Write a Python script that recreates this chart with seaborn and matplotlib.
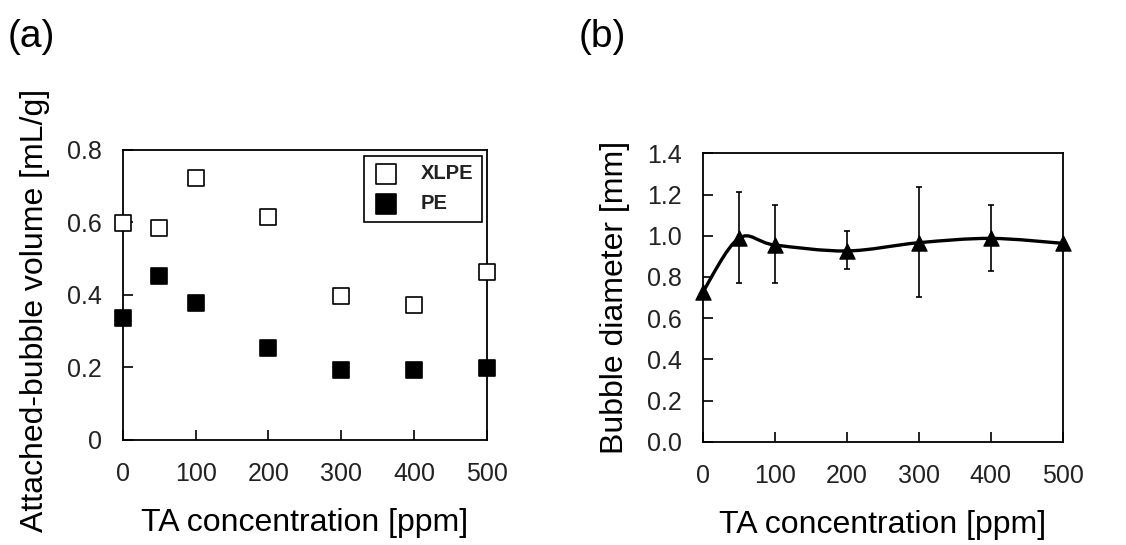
import numpy as np
import matplotlib
matplotlib.use("Agg")
import matplotlib.pyplot as plt
from matplotlib.path import Path
from matplotlib.patches import PathPatch
import seaborn as sns
import pandas as pd

# panel (a) data
ta_ppm = [0, 50, 100, 200, 300, 400, 500]
xlpe_volume = [0.598, 0.584, 0.722, 0.614, 0.397, 0.372, 0.464]
pe_volume = [0.337, 0.452, 0.379, 0.255, 0.193, 0.193, 0.199]

# panel (b) data
bubble_diam = [0.725, 0.987, 0.955, 0.926, 0.966, 0.987, 0.963]
err_low = [np.nan, 0.769, 0.769, 0.840, 0.701, 0.829, np.nan]
err_high = [np.nan, 1.211, 1.148, 1.023, 1.238, 1.148, np.nan]

x_ticks = [0, 100, 200, 300, 400, 500]


def smooth_path(xs, ys):
    # Excel-like smoothed line (Catmull-Rom as cubic Bezier)
    pts = np.column_stack([xs, ys]).astype(float)
    n = len(pts)
    verts = [pts[0]]
    codes = [Path.MOVETO]
    for i in range(n - 1):
        p0 = pts[i - 1] if i > 0 else pts[i]
        p1 = pts[i]
        p2 = pts[i + 1]
        p3 = pts[i + 2] if i + 2 < n else pts[i + 1]
        c1 = p1 + (p2 - p0) / 6.0
        c2 = p2 - (p3 - p1) / 6.0
        verts += [c1, c2, p2]
        codes += [Path.CURVE4] * 3
    return Path(verts, codes)


def main():
    sns.set_theme(style="ticks")
    plt.rcParams['font.family'] = ['Liberation Sans', 'DejaVu Sans']
    plt.rcParams['text.color'] = 'black'
    plt.rcParams['axes.labelcolor'] = 'black'

    fig = plt.figure(figsize=(11.26, 5.45), dpi=100)
    ax1 = fig.add_axes([0.109, 0.1927, 0.3235, 0.5321])
    ax2 = fig.add_axes([0.624, 0.1895, 0.3198, 0.5292])

    df_a = pd.DataFrame({
        'TA': ta_ppm * 2,
        'volume': xlpe_volume + pe_volume,
        'sample': ['XLPE'] * len(ta_ppm) + ['PE'] * len(ta_ppm),
    })
    sns.scatterplot(data=df_a[df_a['sample'] == 'XLPE'], x='TA', y='volume', ax=ax1,
                    marker='s', s=125, facecolor='white', edgecolor='black',
                    linewidth=1.2, label='XLPE', clip_on=False, zorder=3)
    sns.scatterplot(data=df_a[df_a['sample'] == 'PE'], x='TA', y='volume', ax=ax1,
                    marker='s', s=125, color='black', edgecolor='black',
                    linewidth=1.2, label='PE', clip_on=False, zorder=3)
    ax1.set_xlim(0, 500)
    ax1.set_ylim(0, 0.8)
    ax1.set_xticks(x_ticks)
    ax1.set_yticks([0, 0.2, 0.4, 0.6, 0.8])
    ax1.set_yticklabels(['0', '0.2', '0.4', '0.6', '0.8'])
    ax1.set_xlabel('TA concentration [ppm]', fontsize=23, labelpad=16)
    ax1.set_ylabel('Attached-bubble volume [mL/g]', fontsize=23)
    ax1.yaxis.set_label_coords(-0.20, 0.445)
    leg = ax1.legend(loc='upper right', fontsize=14.5, frameon=True, fancybox=False,
                     edgecolor='black', borderpad=0.4, labelspacing=0.55,
                     handletextpad=1.1, handlelength=1.3, markerscale=1.3,
                     bbox_to_anchor=(0.985, 0.978), borderaxespad=0)
    leg.get_frame().set_linewidth(1.2)
    leg.get_frame().set_alpha(1)
    for t in leg.get_texts():
        t.set_fontweight('bold')
        t.set_color('#222222')

    # panel (b)
    ax2.add_patch(PathPatch(smooth_path(ta_ppm, bubble_diam), facecolor='none',
                            edgecolor='black', linewidth=2.4, zorder=3))
    ax2.errorbar(ta_ppm, bubble_diam,
                 yerr=[np.array(bubble_diam) - np.array(err_low),
                       np.array(err_high) - np.array(bubble_diam)],
                 fmt='none', ecolor='black', elinewidth=1.2, capsize=2.5,
                 capthick=1.2, zorder=2)
    sns.scatterplot(x=ta_ppm, y=bubble_diam, ax=ax2, marker='^', s=120,
                    color='black', edgecolor='black', clip_on=False, zorder=4)
    ax2.set_xlim(0, 500)
    ax2.set_ylim(0, 1.4)
    ax2.set_xticks(x_ticks)
    ax2.set_yticks(np.round(np.arange(0, 1.41, 0.2), 1))
    ax2.set_yticklabels([f'{v:.1f}' for v in np.arange(0, 1.41, 0.2)])
    ax2.set_xlabel('TA concentration [ppm]', fontsize=23, labelpad=16)
    ax2.set_ylabel('Bubble diameter [mm]', fontsize=23, labelpad=12)

    for ax in (ax1, ax2):
        for sp in ax.spines.values():
            sp.set_linewidth(1.3)
            sp.set_color('black')
        ax.tick_params(direction='in', length=7, width=1.2, labelsize=18,
                       colors='black', labelcolor='#222222', pad=15)
        ax.tick_params(axis='x', pad=16)
        ax.grid(False)

    fig.text(0.007, 0.933, '(a)', fontsize=28, va='center', ha='left')
    fig.text(0.514, 0.933, '(b)', fontsize=28, va='center', ha='left')

    fig.savefig('out.png', dpi=100, facecolor='white')
    plt.close(fig)


if __name__ == "__main__":
    main()
